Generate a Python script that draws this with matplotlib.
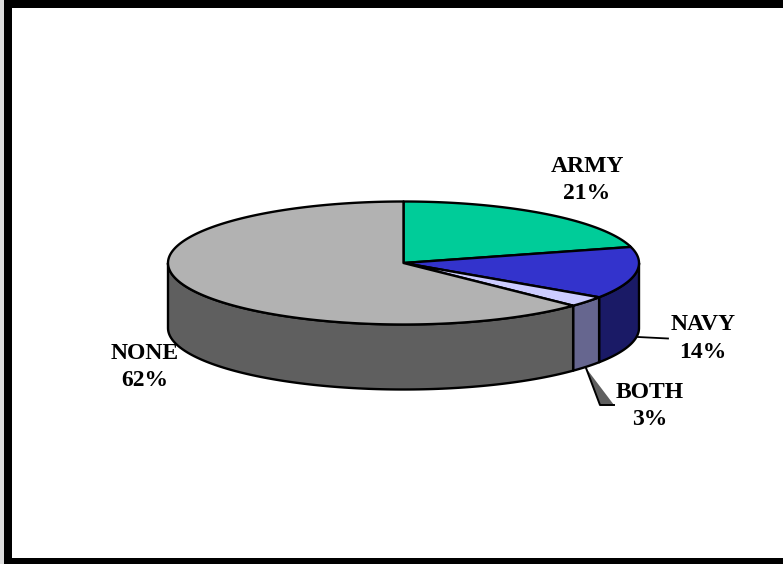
import numpy as np
import matplotlib
matplotlib.use("Agg")
import matplotlib.pyplot as plt
from matplotlib.patches import Polygon, Rectangle

categories = ["ARMY", "NAVY", "BOTH", "NONE"]
values = [20.8, 13.6, 2.8, 62.8]
percent_labels = ["21%", "14%", "3%", "62%"]
top_colors = ["#00CC99", "#3333CC", "#CCCCFF", "#B2B2B2"]
side_colors = ["#006B50", "#1A1A66", "#66668F", "#5F5F5F"]

CX, CY, RX, RY, DEPTH = 403.5, 263, 235.5, 61.5, 65
LABEL_POS = [(587, 180), (703, 338.5), (650, 406), (145, 367)]

plt.rcParams["font.family"] = ["Liberation Serif", "DejaVu Serif"]
fig = plt.figure(figsize=(7.83, 5.64), dpi=100)
ax = fig.add_axes([0, 0, 1, 1])
ax.set_xlim(0, 783)
ax.set_ylim(564, 0)
ax.axis("off")

EDGE = dict(edgecolor="black", linewidth=1.7, joinstyle="round")


def rim(t, dy=0.0):
    return np.column_stack([CX + RX * np.sin(t), CY - RY * np.cos(t) + dy])


shares = np.array(values) / sum(values)
bounds = np.concatenate([[0], np.cumsum(shares)]) * 2 * np.pi

# Visible outer walls (front half of the rim only)
for i, color in enumerate(side_colors):
    a, b = max(bounds[i], np.pi / 2), min(bounds[i + 1], 3 * np.pi / 2)
    if a >= b:
        continue
    t = np.linspace(a, b, 120)
    pts = np.vstack([rim(t), rim(t[::-1], DEPTH)])
    ax.add_patch(Polygon(pts, closed=True, facecolor=color, zorder=2, **EDGE))

# Top face
for i, color in enumerate(top_colors):
    t = np.linspace(bounds[i], bounds[i + 1], 240)
    pts = np.vstack([[[CX, CY]], rim(t)])
    ax.add_patch(Polygon(pts, closed=True, facecolor=color, zorder=3, **EDGE))

# Leader lines
ax.plot([638, 668], [337, 338.5], color="black", lw=1.3, zorder=1)
ax.add_patch(Polygon([(586, 368), (600, 405), (614, 405)], closed=True,
                     facecolor="#5F5F5F", edgecolor="none", zorder=1))
ax.plot([586, 600, 614], [368, 405, 405], color="black", lw=1.4, zorder=1)

# Labels
for name, pct, (x, y) in zip(categories, percent_labels, LABEL_POS):
    ax.text(x, y, f"{name}\n{pct}", ha="center", va="center",
            fontsize=17, fontweight="bold", color="black",
            linespacing=1.4, zorder=5)

# Frame of the slide
ax.add_patch(Rectangle((0, 0), 4, 564, facecolor="#DDDDDD", edgecolor="none", zorder=6))
ax.add_patch(Rectangle((4, 0), 8, 564, facecolor="black", edgecolor="none", zorder=6))
ax.add_patch(Rectangle((4, 0), 779, 8, facecolor="black", edgecolor="none", zorder=6))
ax.add_patch(Rectangle((4, 558), 779, 6, facecolor="black", edgecolor="none", zorder=6))

fig.savefig("out.png", dpi=100, facecolor="white")
